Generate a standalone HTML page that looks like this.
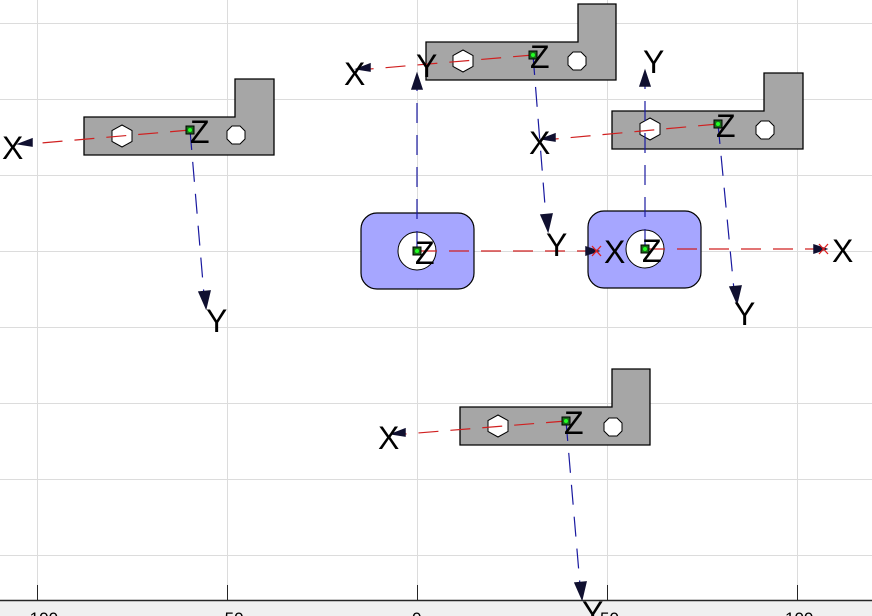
<!DOCTYPE html>
<html><head><meta charset="utf-8"><style>
html,body{margin:0;padding:0;background:#fff;}
svg{display:block;}
text{font-family:"Liberation Sans",sans-serif;font-size:32px;fill:#000;}
.t{font-size:17px;}
</style></head><body>
<svg width="872" height="616" viewBox="0 0 872 616" xmlns="http://www.w3.org/2000/svg">
<rect x="0" y="0" width="872" height="616" fill="#fff"/>
<rect x="0" y="600" width="872" height="16" fill="#f0f0f0"/>
<g stroke="#dcdcdc" stroke-width="1">
<line x1="37.5" y1="0" x2="37.5" y2="600"/><line x1="227.5" y1="0" x2="227.5" y2="600"/>
<line x1="417.5" y1="0" x2="417.5" y2="600"/><line x1="607.5" y1="0" x2="607.5" y2="600"/>
<line x1="797.5" y1="0" x2="797.5" y2="600"/>
<line x1="0" y1="23.5" x2="872" y2="23.5"/><line x1="0" y1="99.5" x2="872" y2="99.5"/>
<line x1="0" y1="175.5" x2="872" y2="175.5"/><line x1="0" y1="251.5" x2="872" y2="251.5"/>
<line x1="0" y1="327.5" x2="872" y2="327.5"/><line x1="0" y1="403.5" x2="872" y2="403.5"/>
<line x1="0" y1="479.5" x2="872" y2="479.5"/><line x1="0" y1="555.5" x2="872" y2="555.5"/>
</g>
<g stroke="#262626" stroke-width="1">
<line x1="0" y1="600.5" x2="872" y2="600.5" stroke-width="1.5"/>
<line x1="37.5" y1="585" x2="37.5" y2="600"/><line x1="227.5" y1="585" x2="227.5" y2="600"/>
<line x1="417.5" y1="585" x2="417.5" y2="600"/><line x1="607.5" y1="585" x2="607.5" y2="600"/>
<line x1="797.5" y1="585" x2="797.5" y2="600"/>
</g>
<g class="t"><text class="t" x="24" y="624">-100</text><text class="t" x="219" y="624">-50</text><text class="t" x="412" y="624">0</text><text class="t" x="600" y="624">50</text><text class="t" x="785" y="624">100</text></g>

<g fill="#a6a6a6" stroke="#000" stroke-width="1.3">
<path d="M84 117 H235 V79 H274 V155 H84 Z"/>
<path d="M426 42 H578 V4 H616 V80 H426 Z"/>
<path d="M612 111 H764 V73 H803 V149 H612 Z"/>
<path d="M460 407 H612 V369 H650 V445 H460 Z"/>
</g>
<g fill="#fff" stroke="#000" stroke-width="1">
<polygon points="122,125 132,130.5 132,141.5 122,147 112,141.5 112,130.5"/>
<polygon points="463,50 473,55.5 473,66.5 463,72 453,66.5 453,55.5"/>
<polygon points="650,118 660,123.5 660,134.5 650,140 640,134.5 640,123.5"/>
<polygon points="498,415 508,420.5 508,431.5 498,437 488,431.5 488,420.5"/>
<polygon points="232,126 240,126 245,131 245,139 240,144 232,144 227,139 227,131"/>
<polygon points="573,52 581,52 586,57 586,65 581,70 573,70 568,65 568,57"/>
<polygon points="761,121 769,121 774,126 774,134 769,139 761,139 756,134 756,126"/>
<polygon points="609,418 617,418 622,423 622,431 617,436 609,436 604,431 604,423"/>
</g>
<g fill="#a6a6ff" stroke="#000" stroke-width="1.2">
<rect x="361" y="213" width="113" height="76" rx="16"/>
<rect x="588" y="211" width="113" height="77" rx="16"/>
</g>
<g fill="#fff" stroke="#000" stroke-width="1">
<circle cx="417" cy="251" r="19"/><circle cx="645" cy="249" r="19"/>
</g>

<g stroke="#d02020" stroke-width="1.2" stroke-dasharray="20,12" fill="none">
<line x1="190" y1="130" x2="30" y2="144"/>
<line x1="533" y1="55" x2="370" y2="69"/>
<line x1="718" y1="124" x2="555" y2="139"/>
<line x1="566" y1="421" x2="405" y2="434"/>
<line x1="417" y1="251" x2="588" y2="251"/>
<line x1="645" y1="249" x2="815" y2="249"/>
</g>
<g stroke="#1a1aa0" stroke-width="1.2" stroke-dasharray="20,12" fill="none">
<line x1="190" y1="130" x2="204" y2="295"/>
<line x1="533" y1="55" x2="546" y2="218"/>
<line x1="718" y1="124" x2="734" y2="290"/>
<line x1="566" y1="421" x2="580" y2="585"/>
<line x1="417" y1="251" x2="417" y2="88"/>
<line x1="645" y1="249" x2="645" y2="85"/>
</g>
<g fill="#101030" stroke="#101030" stroke-width="1.5">
<polygon points="32,146 19,144 32,139"/><polygon points="370,71 357,69 370,64"/>
<polygon points="555,141 542,139 555,134"/><polygon points="405,436 392,434 405,429"/>
<polygon points="598,251 586,247 586,255"/><polygon points="826,249 814,245 814,253"/>
<polygon points="206,308 199,292 210,291"/><polygon points="548,231 541,215 552,214"/>
<polygon points="737,303 730,287 741,286"/><polygon points="582,599 575,583 586,582"/>
<polygon points="417,74 412,89 422,89"/><polygon points="645,71 640,86 650,86"/>
</g>
<g stroke="#e02020" stroke-width="1.3">
<line x1="592" y1="246" x2="601" y2="256"/><line x1="592" y1="256" x2="601" y2="246"/>
<line x1="819" y1="244" x2="828" y2="254"/><line x1="819" y1="254" x2="828" y2="244"/>
</g>
<g fill="#1a6a1a" stroke="#000" stroke-width="1">
<rect x="186" y="126" width="8" height="8"/><rect x="529" y="51" width="8" height="8"/>
<rect x="714" y="120" width="8" height="8"/><rect x="562" y="417" width="8" height="8"/>
<rect x="413" y="247" width="8" height="8"/><rect x="641" y="245" width="8" height="8"/>
</g>
<g fill="#2f2">
<circle cx="190" cy="130" r="2"/><circle cx="533" cy="55" r="2"/><circle cx="718" cy="124" r="2"/>
<circle cx="566" cy="421" r="2"/><circle cx="417" cy="251" r="2"/><circle cx="645" cy="249" r="2"/>
</g>
<text x="190" y="143">Z</text><text x="530" y="68">Z</text><text x="716" y="137">Z</text>
<text x="564" y="434">Z</text><text x="415" y="264">Z</text><text x="642" y="262">Z</text>
<text x="2" y="159">X</text><text x="344" y="85">X</text><text x="529" y="154">X</text>
<text x="378" y="449">X</text><text x="604" y="263">X</text><text x="832" y="262">X</text>
<text x="206" y="332">Y</text><text x="546" y="256">Y</text><text x="734" y="325">Y</text>
<text x="582" y="624">Y</text><text x="416" y="77">Y</text><text x="643" y="73">Y</text>
</svg>
</body></html>
